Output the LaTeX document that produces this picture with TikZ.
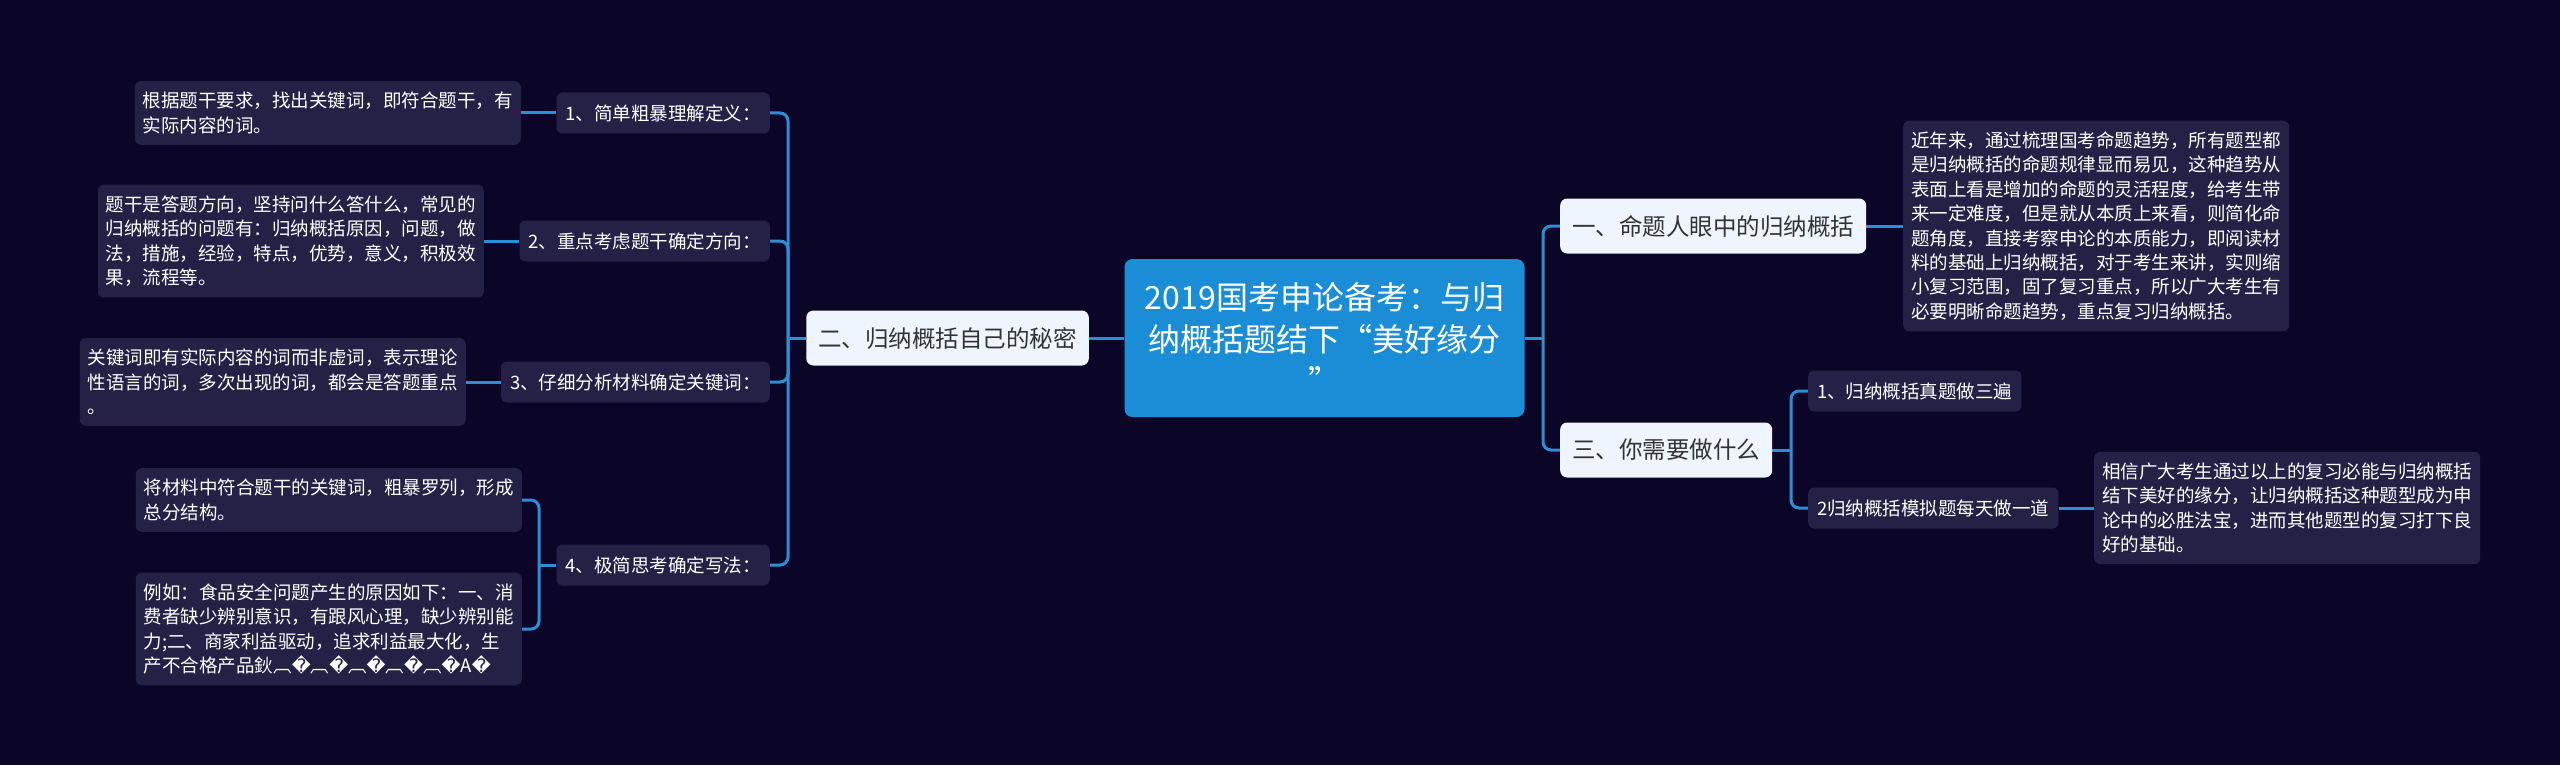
\documentclass[tikz,border=0pt]{standalone}
\usepackage{fontspec}
\newfontfamily\cjk{Noto Sans CJK SC}
\newfontfamily\dvs{DejaVu Sans}
\usetikzlibrary{backgrounds}
\definecolor{bgc}{HTML}{0B0628}
\definecolor{leaffill}{HTML}{252146}
\definecolor{linec}{HTML}{2B8FD6}
\definecolor{centerc}{HTML}{1B8DD6}
\definecolor{mainfill}{HTML}{EEF5FE}
\definecolor{maintext}{HTML}{333333}
\newcommand{\rp}{{\dvs �}}
\begin{document}
\begin{tikzpicture}[x=1pt,y=-1pt,
  leafbox/.style={fill=leaffill, rounded corners=6pt, text=white, font=\cjk\fontsize{18.5}{24.4}\selectfont, align=left, text width=370pt, inner xsep=8pt, inner ysep=11pt},
  subbox/.style={fill=leaffill, rounded corners=6pt, text=white, font=\cjk\fontsize{18.5}{22}\selectfont, inner xsep=9pt, inner ysep=0pt, minimum height=41pt},
  mainbox/.style={fill=mainfill, rounded corners=7pt, text=maintext, font=\cjk\fontsize{23.5}{28}\selectfont, inner xsep=12pt, inner ysep=0pt, minimum height=55pt},
  centerbox/.style={fill=centerc, rounded corners=8pt, text=white, font=\cjk\fontsize{32}{42}\selectfont, align=center, minimum width=400pt, minimum height=158pt, inner sep=0pt},
  conn/.style={draw=linec, line width=3pt, rounded corners=8pt}]
\useasboundingbox (0,0) rectangle (2560,765);

% center
\node[centerbox] (c) at (1324.5,338) {2019国考申论备考：与归\\纳概括题结下“美好缘分\\”};

% left branch
\node[mainbox, anchor=east] (two) at (1089,338) {二、归纳概括自己的秘密};
\coordinate (jL) at (788,338);
\node[subbox, anchor=east] (n1) at (770,113) {1、简单粗暴理解定义：};
\node[subbox, anchor=east] (n2) at (770,241) {2、重点考虑题干确定方向：};
\node[subbox, anchor=east] (n3) at (770,382) {3、仔细分析材料确定关键词：};
\node[subbox, anchor=east] (n4) at (770,565) {4、极简思考确定写法：};
\node[leafbox, anchor=east] (l1) at (521,113) {根据题干要求，找出关键词，即符合题干，有\\实际内容的词。};
\node[leafbox, anchor=east] (l2) at (484,241) {题干是答题方向，坚持问什么答什么，常见的\\归纳概括的问题有：归纳概括原因，问题，做\\法，措施，经验，特点，优势，意义，积极效\\果，流程等。};
\node[leafbox, anchor=east] (l3) at (466,382) {关键词即有实际内容的词而非虚词，表示理论\\性语言的词，多次出现的词，都会是答题重点\\。};
\node[leafbox, anchor=east] (l4a) at (522,500) {将材料中符合题干的关键词，粗暴罗列，形成\\总分结构。};
\node[leafbox, anchor=east] (l4b) at (522,629) {例如：食品安全问题产生的原因如下：一、消\\费者缺少辨别意识，有跟风心理，缺少辨别能\\力;二、商家利益驱动，追求利益最大化，生\\产不合格产品鈥︹\rp︹\rp︹\rp︹\rp︹\rp A\rp};
\coordinate (j4) at (539,565);

% right branch
\coordinate (jR) at (1543,338);
\node[mainbox, anchor=west] (one) at (1560,226) {一、命题人眼中的归纳概括};
\node[mainbox, anchor=west] (three) at (1560,450) {三、你需要做什么};
\node[leafbox, anchor=west] (r1) at (1903,226) {近年来，通过梳理国考命题趋势，所有题型都\\是归纳概括的命题规律显而易见，这种趋势从\\表面上看是增加的命题的灵活程度，给考生带\\来一定难度，但是就从本质上来看，则简化命\\题角度，直接考察申论的本质能力，即阅读材\\料的基础上归纳概括，对于考生来讲，实则缩\\小复习范围，固了复习重点，所以广大考生有\\必要明晰命题趋势，重点复习归纳概括。};
\coordinate (j3) at (1791,450);
\node[subbox, anchor=west] (t1) at (1808,391) {1、归纳概括真题做三遍};
\node[subbox, anchor=west] (t2) at (1808,508) {2归纳概括模拟题每天做一道};
\node[leafbox, anchor=west] (r2) at (2094,508) {相信广大考生通过以上的复习必能与归纳概括\\结下美好的缘分，让归纳概括这种题型成为申\\论中的必胜法宝，进而其他题型的复习打下良\\好的基础。};

\begin{scope}[on background layer]
\fill[bgc] (0,0) rectangle (2560,765);
\draw[conn] (c.west) -- (two.east);
\draw[conn] (two.west) -- (jL);
\foreach \n in {n1,n2,n3,n4} \draw[conn] (\n.east) -| (jL);
\draw[conn] (l1.east) -- (n1.west);
\draw[conn] (l2.east) -- (n2.west);
\draw[conn] (l3.east) -- (n3.west);
\draw[conn] (n4.west) -- (j4);
\draw[conn] (l4a.east) -| (j4);
\draw[conn] (l4b.east) -| (j4);
\draw[conn] (c.east) -- (jR);
\draw[conn] (one.west) -| (jR);
\draw[conn] (three.west) -| (jR);
\draw[conn] (one.east) -- (r1.west);
\draw[conn] (three.east) -- (j3);
\draw[conn] (t1.west) -| (j3);
\draw[conn] (t2.west) -| (j3);
\draw[conn] (t2.east) -- (r2.west);
\end{scope}
\end{tikzpicture}
\end{document}
